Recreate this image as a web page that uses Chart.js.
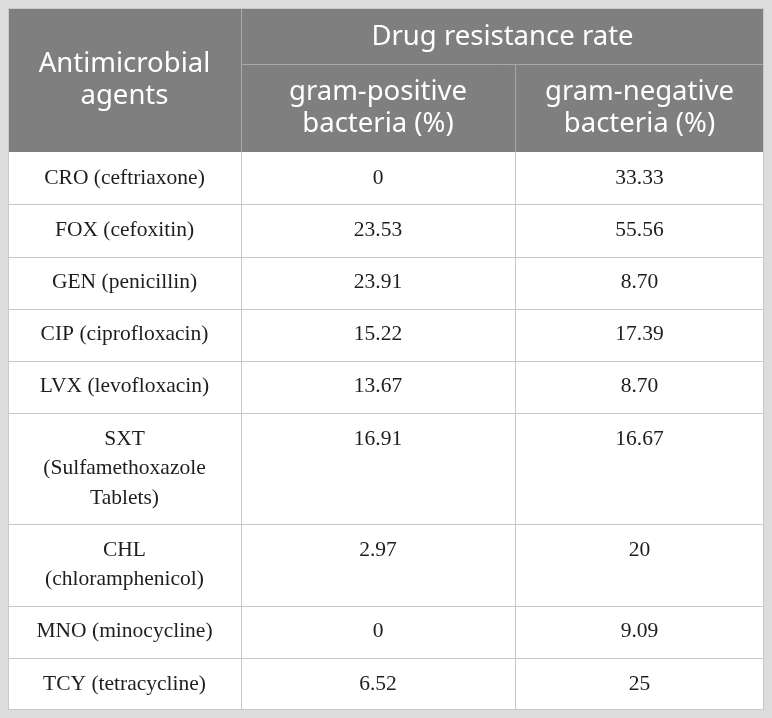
<!DOCTYPE html>
<html>
<head>
<meta charset="utf-8">
<script src="https://cdn.jsdelivr.net/npm/chart.js@4/dist/chart.umd.min.js"></script>
<style>
html, body { margin: 0; padding: 0; background: #dcdcdc; }
#c { display: block; }
</style>
</head>
<body>
<canvas id="c" width="772" height="718"></canvas>
<script>
// ---- DATA ----
const firstHeader = ["Antimicrobial", "agents"];
const groupHeader = "Drug resistance rate";
const seriesNames = [["gram-positive", "bacteria (%)"], ["gram-negative", "bacteria (%)"]];
const agents = [
  ["CRO (ceftriaxone)"],
  ["FOX (cefoxitin)"],
  ["GEN (penicillin)"],
  ["CIP (ciprofloxacin)"],
  ["LVX (levofloxacin)"],
  ["SXT", "(Sulfamethoxazole", "Tablets)"],
  ["CHL", "(chloramphenicol)"],
  ["MNO (minocycline)"],
  ["TCY (tetracycline)"]
];
const gramPositive = ["0", "23.53", "23.91", "15.22", "13.67", "16.91", "2.97", "0", "6.52"];
const gramNegative = ["33.33", "55.56", "8.70", "17.39", "8.70", "16.67", "20", "9.09", "25"];

// ---- STYLE ----
const STYLE = {
  colWidths: [233, 274, 249],
  headLine: 32, headPad: 24,
  bodyLine: 29.5, bodyPad: 22.5,
  headFont: '27.5px "Noto Sans"',
  bodyFont: '21.5px "Liberation Serif"',
  headBg: '#7f7f7f', headRule: '#a8a8a8', headText: '#ffffff',
  bodyBg: '#ffffff', bodyRule: '#c8c8c8', bodyText: '#1e1e1e',
  frame: '#dcdcdc'
};

// ---- build row extents (scale units) ----
const headRowLines = [1, Math.max(...seriesNames.map(s => s.length))];
const headHeights = headRowLines.map(n => STYLE.headPad + n * STYLE.headLine);
const bodyHeights = agents.map(a => STYLE.bodyPad + a.length * STYLE.bodyLine);
const headerBottom = headHeights[0] + headHeights[1];
const rowTops = [];
{ let acc = headerBottom; bodyHeights.forEach(h => { rowTops.push(acc); acc += h; }); rowTops.push(acc); }
const totalHeight = rowTops[rowTops.length - 1];
const colEdges = [0];
STYLE.colWidths.forEach(w => colEdges.push(colEdges[colEdges.length - 1] + w));
const totalWidth = colEdges[colEdges.length - 1];
const colCenter = i => (colEdges[i] + colEdges[i + 1]) / 2;
const firstLineY = i => rowTops[i] + STYLE.bodyPad / 2 + STYLE.bodyLine / 2;

const tablePlugin = {
  id: 'tableDraw',
  beforeDatasetsDraw(chart) {
    const { ctx, scales: { x, y } } = chart;
    const px = v => Math.round(x.getPixelForValue(v));
    const py = v => Math.round(y.getPixelForValue(v));
    ctx.save();
    ctx.fillStyle = STYLE.frame;
    ctx.fillRect(0, 0, chart.width, chart.height);
    ctx.fillStyle = STYLE.bodyBg;
    ctx.fillRect(px(0), py(0), px(totalWidth) - px(0), py(totalHeight) - py(0));
    ctx.fillStyle = STYLE.headBg;
    ctx.fillRect(px(0), py(0), px(totalWidth) - px(0), py(headerBottom) - py(0));

    ctx.lineWidth = 1;
    const hline = (x0, x1, yy, c) => { ctx.strokeStyle = c; ctx.beginPath(); ctx.moveTo(px(x0), py(yy) + 0.5); ctx.lineTo(px(x1), py(yy) + 0.5); ctx.stroke(); };
    const vline = (xx, y0, y1, c) => { ctx.strokeStyle = c; ctx.beginPath(); ctx.moveTo(px(xx) + 0.5, py(y0)); ctx.lineTo(px(xx) + 0.5, py(y1)); ctx.stroke(); };

    // header rules
    vline(colEdges[1], 0, headerBottom, STYLE.headRule);
    hline(colEdges[1], totalWidth, headHeights[0], STYLE.headRule);
    vline(colEdges[2], headHeights[0], headerBottom, STYLE.headRule);
    // body rules
    for (let i = 1; i < rowTops.length - 1; i++) hline(0, totalWidth, rowTops[i], STYLE.bodyRule);
    vline(colEdges[1], headerBottom, totalHeight, STYLE.bodyRule);
    vline(colEdges[2], headerBottom, totalHeight, STYLE.bodyRule);
    // outer border
    ctx.strokeStyle = STYLE.bodyRule;
    ctx.strokeRect(px(0) + 0.5, py(0) + 0.5, px(totalWidth) - px(0) - 1, py(totalHeight) - py(0) - 1);

    // header text
    ctx.fillStyle = STYLE.headText;
    ctx.font = STYLE.headFont;
    ctx.textAlign = 'center';
    ctx.textBaseline = 'middle';
    const hc = headerBottom / 2;
    firstHeader.forEach((t, i) => {
      ctx.fillText(t, x.getPixelForValue(colCenter(0)), y.getPixelForValue(hc + (i - (firstHeader.length - 1) / 2) * STYLE.headLine));
    });
    ctx.fillText(groupHeader, x.getPixelForValue((colEdges[1] + colEdges[3]) / 2), y.getPixelForValue(headHeights[0] / 2 + 1));
    const sc = headHeights[0] + headHeights[1] / 2;
    seriesNames.forEach((lines, c) => {
      lines.forEach((t, i) => {
        ctx.fillText(t, x.getPixelForValue(colCenter(c + 1)), y.getPixelForValue(sc + (i - (lines.length - 1) / 2) * STYLE.headLine));
      });
    });

    // first column text
    ctx.fillStyle = STYLE.bodyText;
    ctx.font = STYLE.bodyFont;
    agents.forEach((lines, r) => {
      lines.forEach((t, i) => {
        ctx.fillText(t, x.getPixelForValue(colCenter(0)), y.getPixelForValue(firstLineY(r) + i * STYLE.bodyLine));
      });
    });
    ctx.restore();
  },
  afterDatasetsDraw(chart) {
    const { ctx } = chart;
    ctx.save();
    ctx.fillStyle = STYLE.bodyText;
    ctx.font = STYLE.bodyFont;
    ctx.textAlign = 'center';
    ctx.textBaseline = 'middle';
    chart.data.datasets.forEach((ds, di) => {
      const meta = chart.getDatasetMeta(di);
      meta.data.forEach((pt, i) => {
        ctx.fillText(ds.data[i].label, pt.x, pt.y);
      });
    });
    ctx.restore();
  }
};

const mkData = (vals, col) => vals.map((v, i) => ({ x: colCenter(col), y: firstLineY(i), label: v }));

new Chart(document.getElementById('c'), {
  type: 'scatter',
  data: {
    datasets: [
      { label: seriesNames[0].join(' '), data: mkData(gramPositive, 1), pointRadius: 0, pointHoverRadius: 0 },
      { label: seriesNames[1].join(' '), data: mkData(gramNegative, 2), pointRadius: 0, pointHoverRadius: 0 }
    ]
  },
  options: {
    responsive: false,
    animation: false,
    devicePixelRatio: 1,
    layout: { padding: { left: 8, right: 8, top: 8, bottom: 8 } },
    events: [],
    plugins: { legend: { display: false }, tooltip: { enabled: false } },
    scales: {
      x: { type: 'linear', display: false, min: 0, max: totalWidth },
      y: { type: 'linear', display: false, min: 0, max: totalHeight, reverse: true }
    }
  },
  plugins: [tablePlugin]
});
</script>
</body>
</html>
